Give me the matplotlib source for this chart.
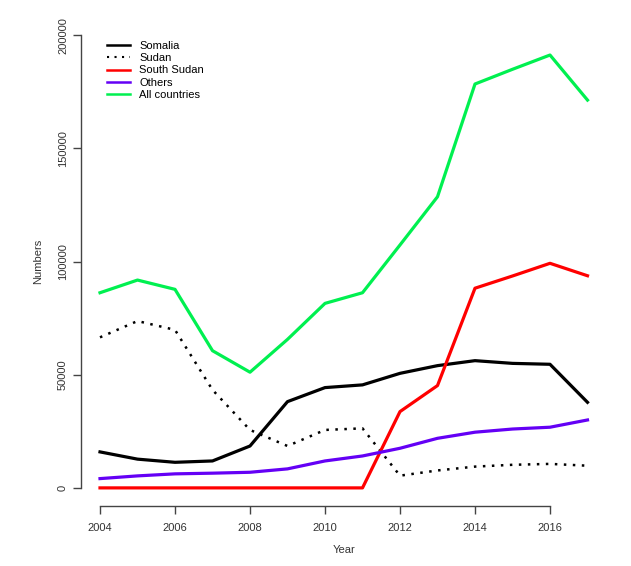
import matplotlib
matplotlib.use("Agg")
import matplotlib.pyplot as plt
from matplotlib.lines import Line2D

plt.rcParams['font.family'] = ['Liberation Sans', 'DejaVu Sans']

years = list(range(2004, 2018))
somalia = [15900, 12700, 11300, 11900, 18500, 38100, 44300, 45500, 50600, 54000, 56200, 55000, 54600, 37800]
sudan = [66500, 73700, 69800, 43300, 25600, 18500, 25600, 26300, 5400, 7700, 9400, 10200, 10600, 9800]
south_sudan = [0, 0, 0, 0, 0, 0, 0, 0, 33700, 45200, 88200, 93600, 99200, 93700]
others = [4100, 5300, 6200, 6500, 6900, 8400, 11900, 14100, 17500, 21900, 24600, 26000, 26800, 30000]
all_countries = [86200, 91800, 87700, 60600, 51100, 65600, 81500, 86200, 107300, 128600, 178400, 184900, 191200, 171300]

series_labels = ["Somalia", "Sudan", "South Sudan", "Others", "All countries"]
x_ticks = [2004, 2006, 2008, 2010, 2012, 2014, 2016]
y_ticks = [0, 50000, 100000, 150000, 200000]

W, H = 631, 566
fig = plt.figure(figsize=(W / 100, H / 100), dpi=100)
left, right, bottom, top = 80.5, 607, 506, 17
ax = fig.add_axes([left / W, 1 - bottom / H, (right - left) / W, (bottom - top) / H])

lw = 2.3
dot_style = (0, (1, 2.6))
ax.plot(years, somalia, color='black', lw=lw, solid_joinstyle='round')
ax.plot(years, sudan, color='black', lw=1.8, linestyle=dot_style)
ax.plot(years, south_sudan, color='#FF0000', lw=lw, solid_joinstyle='round')
ax.plot(years, others, color='#6400F5', lw=lw, solid_joinstyle='round')
ax.plot(years, all_countries, color='#00F050', lw=lw, solid_joinstyle='round')

ax.set_xlim(2004 - 0.52, 2017 + 0.52)
ax.set_ylim(-8000, 208000)
for s in ['top', 'right']:
    ax.spines[s].set_visible(False)
ax.spines['left'].set_bounds(0, 200000)
ax.spines['bottom'].set_bounds(2004, 2016)
for s in ['left', 'bottom']:
    ax.spines[s].set_color('#444444')
    ax.spines[s].set_linewidth(1.0)
ax.set_xticks(x_ticks)
ax.set_xticklabels([str(t) for t in x_ticks])
ax.set_yticks(y_ticks)
ax.set_yticklabels([str(t) for t in y_ticks], rotation=90, va='center')
ax.tick_params(direction='out', length=6, width=1.0, color='#444444', labelsize=8,
               labelcolor='#333333')
ax.tick_params(axis='x', pad=6)
ax.tick_params(axis='y', pad=3)

ax.set_xlabel("Year", fontsize=8, labelpad=9, color='#333333')
ax.set_ylabel("Numbers", fontsize=8, labelpad=11, color='#333333')

leg_lw = 1.8
handles = [
    Line2D([], [], color='black', lw=leg_lw),
    Line2D([], [], color='black', lw=1.5, linestyle=(0, (1, 2.6))),
    Line2D([], [], color='#FF0000', lw=leg_lw),
    Line2D([], [], color='#6400F5', lw=leg_lw),
    Line2D([], [], color='#00F050', lw=leg_lw),
]
ax.legend(handles, series_labels, loc='upper left',
          bbox_to_anchor=((107 - left) / (right - left), 1 - (41 - top) / (bottom - top)),
          frameon=False, fontsize=8, handlelength=2.1, handletextpad=0.8, labelspacing=0.2,
          borderaxespad=0, borderpad=0)

fig.savefig("out.png", dpi=100)
